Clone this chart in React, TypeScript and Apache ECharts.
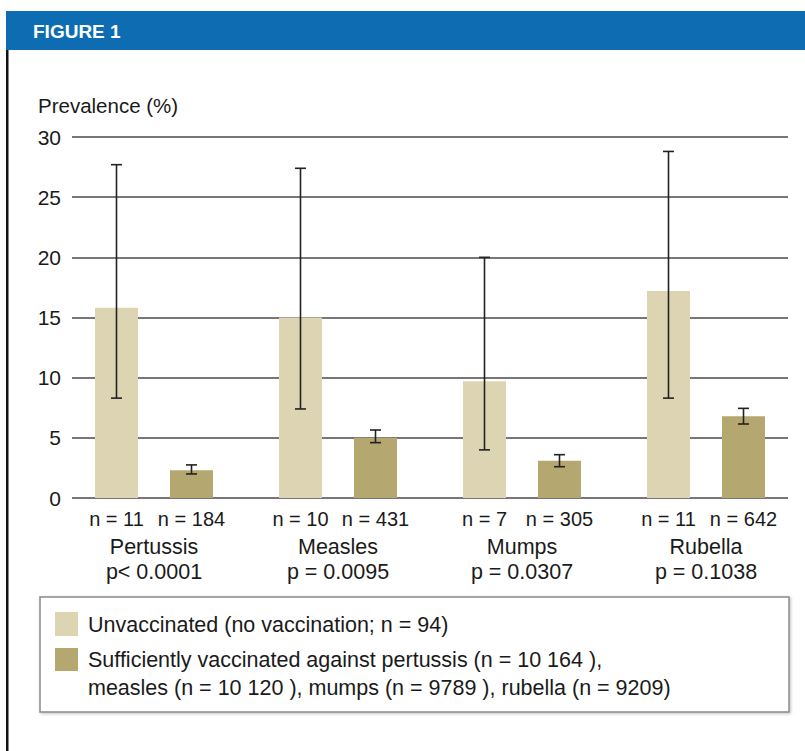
import React, { useEffect, useRef } from "react";
import * as echarts from "echarts";

const categories = ["Pertussis", "Measles", "Mumps", "Rubella"];
const pLabels = ["p< 0.0001", "p = 0.0095", "p = 0.0307", "p = 0.1038"];
const seriesNames = [
  "Unvaccinated (no vaccination; n = 94)",
  "Sufficiently vaccinated against pertussis (n = 10 164 ),\nmeasles (n = 10 120 ), mumps (n = 9789 ), rubella (n = 9209)",
];
const unvacc = [15.8, 15.0, 9.7, 17.2];
const unvaccLow = [8.3, 7.4, 4.0, 8.3];
const unvaccHigh = [27.7, 27.4, 20.0, 28.8];
const vacc = [2.3, 5.0, 3.1, 6.8];
const vaccLow = [2.0, 4.6, 2.6, 6.15];
const vaccHigh = [2.75, 5.65, 3.6, 7.45];
const nUnvacc = [11, 10, 7, 11];
const nVacc = [184, 431, 305, 642];
const yTicks = { min: 0, max: 30, interval: 5 };

const FONT = "'Liberation Sans', Arial, Helvetica, sans-serif";
const TEXT = "#1a1a1a";
const LIGHT = "#ddd4b4";
const DARK = "#b4a76f";
const BLUE = "#0e6db2";
const BAR_W = 43;
const GAP = 32;
const OFFSET = (BAR_W + GAP) / 2;

export default function App() {
  const ref = useRef<HTMLDivElement>(null);
  useEffect(() => {
    if (!ref.current) return;
    const chart = echarts.init(ref.current, null, { renderer: "svg" });
    const errData: number[][] = [];
    categories.forEach((_, i) => {
      errData.push([i, unvaccLow[i], unvaccHigh[i], -1]);
      errData.push([i, vaccLow[i], vaccHigh[i], 1]);
    });
    const nLabel = (arr: number[]) => ({
      show: true,
      position: "insideBottom",
      distance: 0,
      offset: [0, 31],
      fontFamily: FONT,
      fontSize: 20,
      lineHeight: 20,
      color: TEXT,
      formatter: (p: any) => `n = ${arr[p.dataIndex]}`,
    });
    const option: any = {
      animation: false,
      backgroundColor: "#ffffff",
      grid: [
        { left: 62, right: 7, top: 137, bottom: 253 },
        { left: 72, right: 17, top: 137, bottom: 253 },
      ],
      xAxis: [
        {
          type: "category",
          gridIndex: 0,
          data: categories,
          axisLine: { show: false },
          axisTick: { show: false },
          axisLabel: {
            margin: 36,
            fontFamily: FONT,
            fontSize: 21.5,
            lineHeight: 25,
            color: TEXT,
            formatter: (v: string, i: number) => `${v}\n${pLabels[i]}`,
          },
        },
        { type: "value", gridIndex: 1, show: false, min: 0, max: 1 },
      ],
      yAxis: [
        { type: "value", gridIndex: 0, show: false, ...yTicks },
        {
          type: "value",
          gridIndex: 1,
          ...yTicks,
          axisLine: { show: false },
          axisTick: { show: false },
          axisLabel: { margin: 11, fontFamily: FONT, fontSize: 21, color: TEXT },
          splitLine: { lineStyle: { color: "#4a4a4a", width: 1.5 } },
        },
      ],
      series: [
        {
          name: seriesNames[0],
          type: "bar",
          xAxisIndex: 0,
          yAxisIndex: 0,
          data: unvacc,
          barWidth: BAR_W,
          barGap: `${(GAP / BAR_W) * 100}%`,
          itemStyle: { color: LIGHT },
          label: nLabel(nUnvacc),
        },
        {
          name: seriesNames[1],
          type: "bar",
          xAxisIndex: 0,
          yAxisIndex: 0,
          data: vacc,
          barWidth: BAR_W,
          itemStyle: { color: DARK },
          label: nLabel(nVacc),
        },
        {
          type: "custom",
          xAxisIndex: 0,
          yAxisIndex: 0,
          z: 5,
          data: errData,
          encode: { x: 0, y: [1, 2] },
          renderItem: (params: any, api: any) => {
            const idx = api.value(0);
            const lo = api.coord([idx, api.value(1)]);
            const hi = api.coord([idx, api.value(2)]);
            const x = lo[0] + api.value(3) * OFFSET;
            const cap = 5.5;
            const st = { stroke: "#222", lineWidth: 1.6 };
            return {
              type: "group",
              children: [
                { type: "line", shape: { x1: x, y1: lo[1], x2: x, y2: hi[1] }, style: st },
                { type: "line", shape: { x1: x - cap, y1: lo[1], x2: x + cap, y2: lo[1] }, style: st },
                { type: "line", shape: { x1: x - cap, y1: hi[1], x2: x + cap, y2: hi[1] }, style: st },
              ],
            };
          },
        },
      ],
      graphic: [
        { type: "rect", shape: { x: 6, y: 11, width: 799, height: 39 }, style: { fill: BLUE } },
        {
          type: "text",
          x: 33,
          y: 31,
          style: {
            text: "FIGURE 1",
            fill: "#ffffff",
            font: `bold 19px ${FONT}`,
            verticalAlign: "middle",
          },
        },
        { type: "rect", shape: { x: 6, y: 50, width: 2.5, height: 701 }, style: { fill: "#111" } },
        {
          type: "text",
          x: 38,
          y: 105,
          style: { text: "Prevalence (%)", fill: TEXT, font: `20.5px ${FONT}`, verticalAlign: "middle" },
        },
        {
          type: "rect",
          shape: { x: 40, y: 597, width: 749, height: 115 },
          style: {
            fill: "#ffffff",
            stroke: "#8a8a8a",
            lineWidth: 1.5,
            shadowBlur: 3,
            shadowOffsetX: 1,
            shadowOffsetY: 1,
            shadowColor: "rgba(0,0,0,0.25)",
          },
        },
        { type: "rect", shape: { x: 55, y: 612, width: 23, height: 24 }, style: { fill: LIGHT } },
        {
          type: "text",
          x: 88,
          y: 625,
          style: { text: seriesNames[0], fill: TEXT, font: `21.5px ${FONT}`, verticalAlign: "middle" },
        },
        { type: "rect", shape: { x: 55, y: 648, width: 23, height: 23 }, style: { fill: DARK } },
        {
          type: "text",
          x: 88,
          y: 646,
          style: {
            text: seriesNames[1],
            fill: TEXT,
            font: `21.5px ${FONT}`,
            lineHeight: 28,
            verticalAlign: "top",
          },
        },
      ],
    };
    chart.setOption(option);
    return () => chart.dispose();
  }, []);
  return (
    <div
      ref={ref}
      style={{ position: "fixed", left: 0, top: 0, width: 805, height: 751, background: "#fff" }}
    />
  );
}
